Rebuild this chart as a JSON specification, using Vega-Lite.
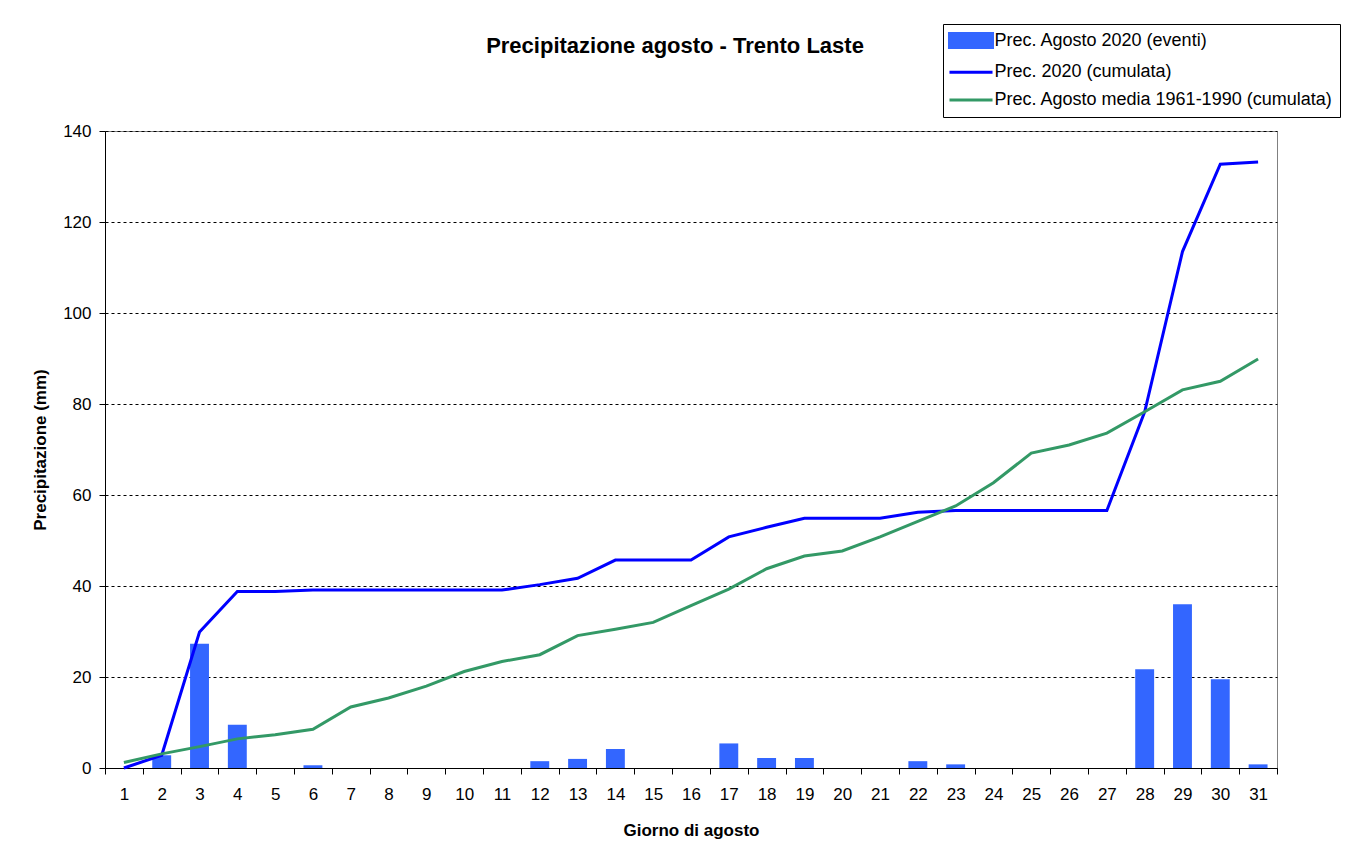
{
  "$schema": "https://vega.github.io/schema/vega-lite/v6.json",
  "autosize": "none",
  "width": 1172,
  "height": 637,
  "padding": {"left": 105, "top": 131, "right": 90, "bottom": 86},
  "background": "white",
  "config": {
    "font": "Liberation Sans",
    "view": {"stroke": "#808080", "strokeWidth": 1}
  },
  "title": {
    "text": "Precipitazione agosto - Trento Laste",
    "font": "Liberation Sans",
    "fontSize": 22,
    "fontWeight": "bold",
    "color": "black",
    "anchor": "middle",
    "frame": "group",
    "dx": -16,
    "baseline": "alphabetic",
    "offset": 0,
    "dy": 51
  },
  "data": {
    "values": [
      {"day": 1, "ev": 0, "cum": 0, "med": 1.2},
      {"day": 2, "ev": 2.8, "cum": 2.8, "med": 3.1},
      {"day": 3, "ev": 27.3, "cum": 29.9, "med": 4.7},
      {"day": 4, "ev": 9.5, "cum": 38.8, "med": 6.4},
      {"day": 5, "ev": 0, "cum": 38.8, "med": 7.3},
      {"day": 6, "ev": 0.6, "cum": 39.1, "med": 8.5},
      {"day": 7, "ev": 0, "cum": 39.1, "med": 13.4},
      {"day": 8, "ev": 0, "cum": 39.1, "med": 15.4},
      {"day": 9, "ev": 0, "cum": 39.1, "med": 18.0},
      {"day": 10, "ev": 0, "cum": 39.1, "med": 21.2},
      {"day": 11, "ev": 0, "cum": 39.1, "med": 23.4},
      {"day": 12, "ev": 1.5, "cum": 40.3, "med": 24.9},
      {"day": 13, "ev": 2.0, "cum": 41.7, "med": 29.1},
      {"day": 14, "ev": 4.2, "cum": 45.7, "med": 30.5},
      {"day": 15, "ev": 0, "cum": 45.7, "med": 32.0},
      {"day": 16, "ev": 0, "cum": 45.7, "med": 35.7},
      {"day": 17, "ev": 5.4, "cum": 50.8, "med": 39.3},
      {"day": 18, "ev": 2.2, "cum": 52.9, "med": 43.8},
      {"day": 19, "ev": 2.2, "cum": 54.9, "med": 46.6},
      {"day": 20, "ev": 0, "cum": 54.9, "med": 47.7},
      {"day": 21, "ev": 0, "cum": 54.9, "med": 50.8},
      {"day": 22, "ev": 1.5, "cum": 56.2, "med": 54.2},
      {"day": 23, "ev": 0.8, "cum": 56.6, "med": 57.6},
      {"day": 24, "ev": 0, "cum": 56.6, "med": 62.7},
      {"day": 25, "ev": 0, "cum": 56.6, "med": 69.2},
      {"day": 26, "ev": 0, "cum": 56.6, "med": 71.0},
      {"day": 27, "ev": 0, "cum": 56.6, "med": 73.6},
      {"day": 28, "ev": 21.7, "cum": 78.3, "med": 78.3},
      {"day": 29, "ev": 36.0, "cum": 113.5, "med": 83.1},
      {"day": 30, "ev": 19.5, "cum": 132.7, "med": 85.0},
      {"day": 31, "ev": 0.8, "cum": 133.2, "med": 89.9}
    ]
  },
  "encoding": {
    "x": {
      "field": "day",
      "type": "ordinal",
      "scale": {"paddingInner": 0, "paddingOuter": 0},
      "axis": {
        "title": "Giorno di agosto",
        "titleFont": "Liberation Sans",
        "titleFontSize": 17,
        "titleFontWeight": "bold",
        "titleColor": "black",
        "titlePadding": 20,
        "labelAngle": 0,
        "labelFont": "Liberation Sans",
        "labelFontSize": 17,
        "labelColor": "black",
        "labelPadding": 12,
        "tickBand": "extent",
        "tickSize": 6,
        "tickColor": "black",
        "domainColor": "black",
        "grid": false
      }
    }
  },
  "layer": [
    {
      "mark": {"type": "bar", "width": {"band": 0.5}},
      "encoding": {
        "y": {
          "field": "ev",
          "type": "quantitative",
          "scale": {"domain": [0, 140], "nice": false},
          "axis": {
            "title": "Precipitazione (mm)",
            "titleFont": "Liberation Sans",
            "titleFontSize": 17,
            "titleFontWeight": "bold",
            "titleColor": "black",
            "titlePadding": 13,
            "values": [0, 20, 40, 60, 80, 100, 120, 140],
            "labelFont": "Liberation Sans",
            "labelFontSize": 17,
            "labelColor": "black",
            "labelPadding": 8,
            "tickSize": 6,
            "tickColor": "black",
            "domainColor": "black",
            "grid": true,
            "gridColor": "black",
            "gridDash": [3, 3],
            "gridWidth": 1
          }
        },
        "color": {
          "datum": "Prec. Agosto 2020 (eventi)",
          "type": "nominal",
          "scale": {
            "domain": ["Prec. Agosto 2020 (eventi)", "Prec. 2020 (cumulata)", "Prec. Agosto media 1961-1990 (cumulata)"],
            "range": ["#3366FF", "#0000FF", "#339966"]
          },
          "legend": {
            "title": null,
            "orient": "none",
            "legendX": 838,
            "legendY": -107,
            "fillColor": "white",
            "strokeColor": "black",
            "padding": 7,
            "symbolSize": 256,
            "symbolOffset": 11.5,
            "labelOffset": 14,
            "labelFont": "Liberation Sans",
            "labelFontSize": 18,
            "labelColor": "black",
            "labelLimit": 0,
            "rowPadding": 8.8,
            "encode": {
              "symbols": {
                "update": {
                  "shape": {"signal": "datum.value == 'Prec. Agosto 2020 (eventi)' ? 'M-2.69,-0.875H2.69V0.875H-2.69Z' : 'M-2.69,0H2.69'"},
                  "fill": {"signal": "datum.value == 'Prec. Agosto 2020 (eventi)' ? '#3366FF' : 'transparent'"},
                  "stroke": {"signal": "datum.value == 'Prec. Agosto 2020 (eventi)' ? 'transparent' : (datum.value == 'Prec. 2020 (cumulata)' ? '#0000FF' : '#339966')"},
                  "strokeWidth": {"value": 3},
                  "opacity": {"value": 1}
                }
              }
            }
          }
        }
      }
    },
    {
      "mark": {"type": "line", "strokeWidth": 3},
      "encoding": {
        "y": {"field": "cum", "type": "quantitative"},
        "color": {"datum": "Prec. 2020 (cumulata)", "type": "nominal"}
      }
    },
    {
      "mark": {"type": "line", "strokeWidth": 3},
      "encoding": {
        "y": {"field": "med", "type": "quantitative"},
        "color": {"datum": "Prec. Agosto media 1961-1990 (cumulata)", "type": "nominal"}
      }
    }
  ]
}
